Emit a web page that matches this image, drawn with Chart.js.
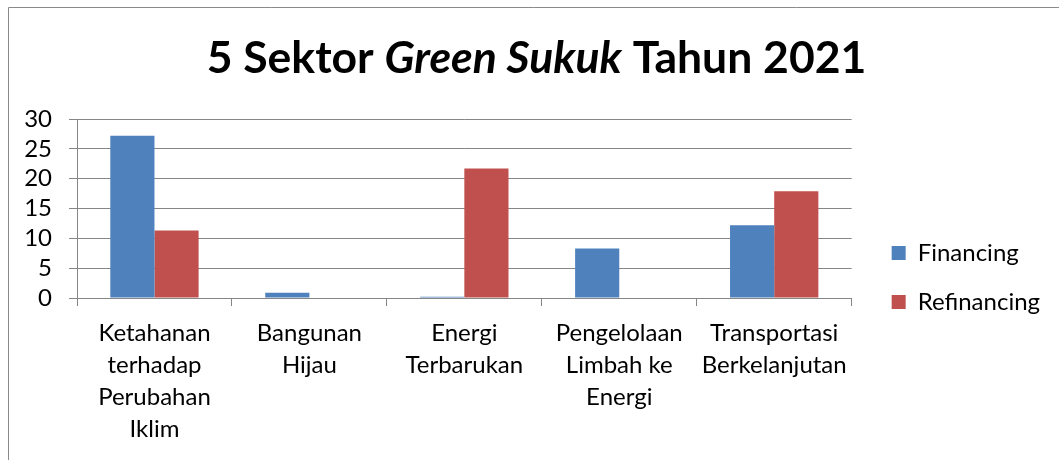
<!DOCTYPE html>
<html>
<head>
<meta charset="utf-8">
<script src="https://cdn.jsdelivr.net/npm/chart.js@4.4.0/dist/chart.umd.min.js"></script>
<style>
  html, body { margin: 0; padding: 0; background: #fff; }
  #wrap { width: 1059px; height: 460px; }
</style>
</head>
<body>
<div id="wrap"><canvas id="chartCanvas"></canvas></div>
<script>
const categories = [
  ['Ketahanan', 'terhadap', 'Perubahan', 'Iklim'],
  ['Bangunan', 'Hijau'],
  ['Energi', 'Terbarukan'],
  ['Pengelolaan', 'Limbah ke', 'Energi'],
  ['Transportasi', 'Berkelanjutan']
];
const financing = [27.2, 0.9, 0.2, 8.3, 12.2];
const refinancing = [11.3, 0, 21.7, 0, 17.9];
const yTicks = [0, 5, 10, 15, 20, 25, 30];
const titleParts = [
  {text: '5 Sektor ', italic: false},
  {text: 'Green Sukuk', italic: true},
  {text: ' Tahun 2021', italic: false}
];

const FONT = 'Lato';
const AXIS_GRAY = '#868686';

// frame around the chart and the mixed bold / bold-italic title
const frameAndTitle = {
  id: 'frameAndTitle',
  beforeDraw(chart) {
    const ctx = chart.ctx;
    ctx.save();
    ctx.strokeStyle = '#8a8a8a';
    ctx.lineWidth = 1;
    ctx.beginPath();
    ctx.moveTo(8.5, chart.height);
    ctx.lineTo(8.5, 7.5);
    ctx.lineTo(chart.width, 7.5);
    ctx.stroke();
    ctx.restore();
  },
  afterDraw(chart) {
    const ctx = chart.ctx;
    ctx.save();
    ctx.fillStyle = '#000';
    ctx.textBaseline = 'alphabetic';
    const fonts = titleParts.map(p => (p.italic ? 'italic ' : '') + 'bold 44.5px ' + FONT);
    let total = 0;
    const widths = titleParts.map((p, i) => {
      ctx.font = fonts[i];
      const w = ctx.measureText(p.text).width;
      total += w;
      return w;
    });
    let x = chart.width / 2 + 7 - total / 2;
    titleParts.forEach((p, i) => {
      ctx.font = fonts[i];
      ctx.fillText(p.text, x, 73);
      x += widths[i];
    });
    ctx.restore();
  }
};

new Chart(document.getElementById('chartCanvas'), {
  type: 'bar',
  data: {
    labels: categories,
    datasets: [
      {label: 'Financing', data: financing, backgroundColor: '#4F81BD', yAxisID: 'y'},
      {label: 'Refinancing', data: refinancing, backgroundColor: '#C0504D', yAxisID: 'y'}
    ]
  },
  options: {
    responsive: true,
    maintainAspectRatio: false,
    animation: false,
    layout: {padding: {top: 119, right: 19, bottom: 4, left: 0}},
    datasets: {bar: {categoryPercentage: 0.57, barPercentage: 1}},
    plugins: {
      legend: {
        position: 'right',
        align: 'start',
        // empty title only used as a spacer to push the items down
        title: {display: true, text: '', font: {size: 12, lineHeight: 1}, padding: {top: 85, bottom: 0}},
        labels: {
          boxWidth: 14, boxHeight: 14, padding: 25, color: '#000',
          font: {family: FONT, size: 24}
        }
      },
      tooltip: {enabled: false}
    },
    scales: {
      x: {
        grid: {offset: true, drawOnChartArea: false, tickLength: 8, color: AXIS_GRAY},
        border: {color: AXIS_GRAY},
        ticks: {
          padding: 11, color: '#000', maxRotation: 0, autoSkip: false,
          font: {family: FONT, size: 24, lineHeight: 1.333}
        }
      },
      y: {
        min: 0, max: 30,
        afterBuildTicks(s) { s.ticks = yTicks.map(v => ({value: v})); },
        afterFit(s) { s.width = 77; },
        grid: {color: AXIS_GRAY, tickLength: 8},
        border: {color: AXIS_GRAY},
        ticks: {padding: 17, autoSkip: false, color: '#000', font: {family: FONT, size: 24}}
      },
      yR: {
        position: 'right',
        grid: {display: false},
        border: {display: false},
        ticks: {display: false},
        afterFit(s) { s.width = 15; }
      }
    }
  },
  plugins: [frameAndTitle]
});
</script>
</body>
</html>
